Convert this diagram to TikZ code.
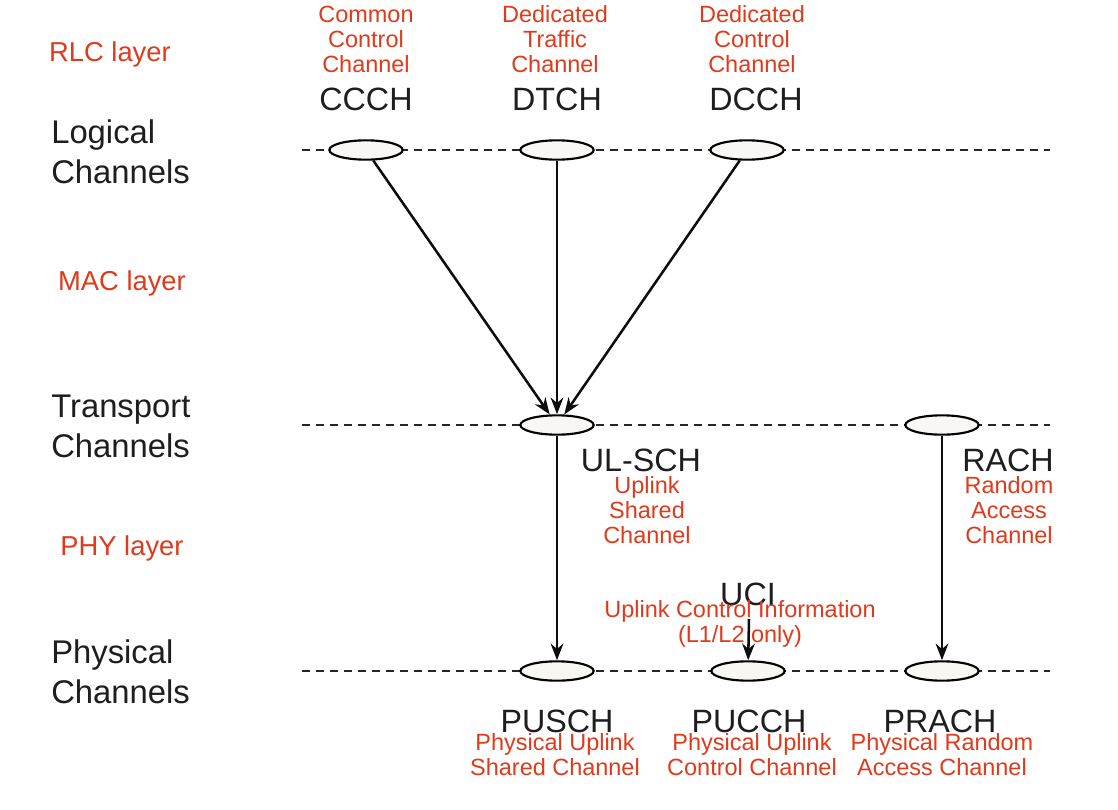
\documentclass[tikz,border=0pt]{standalone}
\usepackage{fontspec}
\setmainfont{Liberation Sans}
\usetikzlibrary{arrows.meta,shapes.geometric}
\definecolor{redtxt}{HTML}{DF3A1C}
\definecolor{blacktxt}{HTML}{1E1E1E}
\definecolor{ellfill}{HTML}{F8F7F4}
\begin{document}
\begin{tikzpicture}[x=0.75pt,y=-0.75pt,
  redlbl/.style={text=redtxt,font=\fontsize{17.6}{18.8}\selectfont,align=center,inner sep=0pt},
  blklbl/.style={text=blacktxt,font=\fontsize{24.2}{30}\selectfont,align=center,inner sep=0pt},
  sidelbl/.style={text=blacktxt,font=\fontsize{24.6}{30}\selectfont,align=left,inner sep=0pt,anchor=west},
  layerlbl/.style={text=redtxt,font=\fontsize{20.5}{22}\selectfont,inner sep=0pt},
  chan/.style={ellipse,draw=black,line width=1.6pt,fill=ellfill,minimum width=55pt,minimum height=14.5pt,inner sep=0pt},
  dline/.style={draw=black!85,line width=1.1pt,dash pattern=on 6pt off 4.5pt},
  arr/.style={draw=black!95,line width=1.9pt,-{Stealth[length=12.5pt,width=9.5pt]}}
]
\useasboundingbox (0,0) rectangle (1118,810);
% dashed lines
\coordinate (l1a) at (302,150); \coordinate (l1b) at (1050,150);
\coordinate (l2a) at (302,425); \coordinate (l2b) at (1050,425);
\coordinate (l3a) at (302,671); \coordinate (l3b) at (1050,671);
\draw[dline] (l1a) -- (l1b);
\draw[dline] (l2a) -- (l2b);
\draw[dline] (l3a) -- (l3b);
% ellipses
\node[chan] (ccch) at (366,150) {};
\node[chan] (dtch) at (557,150) {};
\node[chan] (dcch) at (747,150) {};
\node[chan] (ulsch) at (557,425) {};
\node[chan] (rach) at (942,425) {};
\node[chan] (pusch) at (557,671) {};
\node[chan] (pucch) at (748,671) {};
\node[chan] (prach) at (942,671) {};
% side labels
\node[layerlbl] (rlc) at (110,54) {RLC layer};
\node[layerlbl] (mac) at (122,283) {MAC layer};
\node[layerlbl] (phy) at (122,548) {PHY layer};
\node[sidelbl] (logc) at (51,152) {Logical\\Channels};
\node[sidelbl] (trc) at (51,426) {Transport\\Channels};
\node[sidelbl] (phc) at (51,672) {Physical\\Channels};
% top labels
\node[redlbl] (ccchd) at (366,39) {Common\\Control\\Channel};
\node[blklbl] (ccchn) at (366,99) {CCCH};
\node[redlbl] (dtchd) at (555,39) {Dedicated\\Traffic\\Channel};
\node[blklbl] (dtchn) at (557,99) {DTCH};
\node[redlbl] (dcchd) at (752,39) {Dedicated\\Control\\Channel};
\node[blklbl] (dcchn) at (756,99) {DCCH};
% middle labels
\node[blklbl] (ulschn) at (641,460) {UL-SCH};
\node[redlbl] (ulschd) at (647,510) {Uplink\\Shared\\Channel};
\node[blklbl] (rachn) at (1008,460) {RACH};
\node[redlbl] (rachd) at (1009,510) {Random\\Access\\Channel};
% UCI
\node[blklbl] (ucin) at (748,594) {UCI};
\node[redlbl] (ucid) at (740,624) {Uplink Control Information\\(L1/L2 only)};
\coordinate (ucistart) at (749,619);
% bottom labels
\node[blklbl] (puschn) at (557,721) {PUSCH};
\node[redlbl] (puschd) at (555,755) {Physical Uplink\\Shared Channel};
\node[blklbl] (pucchn) at (749,721) {PUCCH};
\node[redlbl] (pucchd) at (752,755) {Physical Uplink\\Control Channel};
\node[blklbl] (prachn) at (940,721) {PRACH};
\node[redlbl] (prachd) at (942,755) {Physical Random\\Access Channel};
% arrows
\draw[arr] (ccch) -- (ulsch);
\draw[arr] (dtch) -- (ulsch);
\draw[arr] (dcch) -- (ulsch);
\draw[arr] (ulsch) -- (pusch);
\draw[arr] (rach) -- (prach);
\draw[arr] (ucistart) -- (pucch);
\end{tikzpicture}
\end{document}
